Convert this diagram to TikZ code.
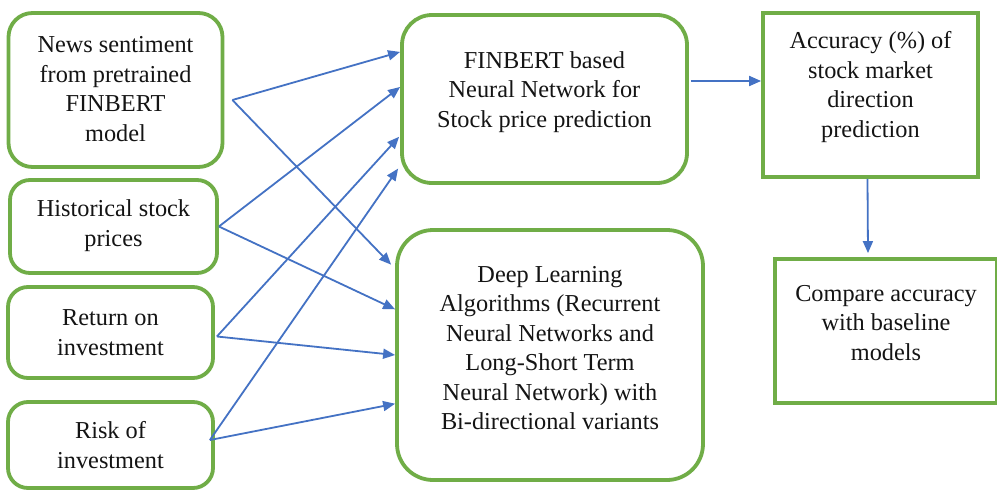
\documentclass[tikz,border=0pt]{standalone}
\usepackage{fontspec}
\setmainfont{Liberation Serif}
\usetikzlibrary{arrows.meta,calc}
\definecolor{boxgreen}{RGB}{112,173,71}
\definecolor{arrblue}{RGB}{68,114,196}
\begin{document}
\begin{tikzpicture}[x=1pt,y=-1pt,
  box/.style={draw=boxgreen,line width=3.8pt,fill=white,inner sep=0pt},
  txt/.style={align=center,font=\fontsize{24.3}{29.5}\selectfont,text=black!92,inner sep=0pt},
  arr/.style={draw=arrblue,line width=1.8pt,-{Triangle[length=12pt,width=10pt]}}]
\useasboundingbox[fill=white] (0,0) rectangle (997,490);
% left column
\node[box,rounded corners=24pt,minimum width=214pt,minimum height=154pt] (A) at (115.5,90) {};
\node[box,rounded corners=20pt,minimum width=207pt,minimum height=93pt] (B) at (113.5,226.5) {};
\node[box,rounded corners=20pt,minimum width=205pt,minimum height=91pt] (C) at (110.5,332.5) {};
\node[box,rounded corners=20pt,minimum width=205pt,minimum height=86pt] (D) at (110.5,445) {};
% middle
\node[box,rounded corners=30pt,minimum width=285pt,minimum height=168pt] (E) at (544.5,99) {};
\node[box,rounded corners=36pt,minimum width=306pt,minimum height=250pt] (F) at (550,355) {};
% right
\node[box,minimum width=215pt,minimum height=164pt] (G) at (870.5,95) {};
\node[box,minimum width=222pt,minimum height=144pt] (H) at (886,331) {};
% texts
\node[txt] (At) at ($(A.center)+(0,-1)$) {News sentiment\\from pretrained\\FINBERT\\model};
\node[txt] (Bt) at ($(B.center)+(0,-1)$) {Historical stock\\prices};
\node[txt] (Ct) at (C.center) {Return on\\investment};
\node[txt] (Dt) at (D.center) {Risk of\\investment};
\node[txt] (Et) at ($(E.center)+(0,-7)$) {FINBERT based\\Neural Network for\\Stock price prediction};
\node[txt] (Ft) at ($(F.center)+(0,-7)$) {Deep Learning\\Algorithms (Recurrent\\Neural Networks and\\Long-Short Term\\Neural Network) with\\Bi-directional variants};
\node[txt] (Gt) at ($(G.center)+(0,-8)$) {Accuracy (\%) of\\stock market\\direction\\prediction};
\node[txt] (Ht) at ($(H.center)+(0,-8)$) {Compare accuracy\\with baseline\\models};
% start points
\coordinate (a) at ($(A.east)+(8,10)$);
\coordinate (b) at ($(B.east)+(0,0)$);
\coordinate (c) at ($(C.east)+(2,4)$);
\coordinate (d) at ($(D.east)+(-5,-5)$);
% end points on E and F
\coordinate (e1) at ($(E.north west)!0.226!(E.south west)$);
\coordinate (e2) at ($(E.north west)!0.43!(E.south west)$);
\coordinate (e3) at ($(E.north west)!0.72!(E.south west)+(-1,0)$);
\coordinate (e4) at ($(E.north west)!0.905!(E.south west)+(-2,0)$);
\coordinate (f1) at ($(F.north west)!0.144!(F.south west)+(-4,0)$);
\coordinate (f2) at ($(F.north west)!0.32!(F.south west)$);
\coordinate (f3) at ($(F.north west)!0.50!(F.south west)$);
\coordinate (f4) at ($(F.north west)!0.692!(F.south west)$);
\draw[arr] (a) -- (e1);
\draw[arr] (a) -- (f1);
\draw[arr] (b) -- (e2);
\draw[arr] (b) -- (f2);
\draw[arr] (c) -- (e3);
\draw[arr] (c) -- (f3);
\draw[arr] (d) -- (e4);
\draw[arr] (d) -- (f4);
\draw[arr] ($(E.east)+(2,-18)$) -- ($(G.west)+(0,-14)$);
\draw[arr] ($(G.south)+(-3,0)$) -- ($(H.north)+(-18,-4)$);
\end{tikzpicture}
\end{document}
